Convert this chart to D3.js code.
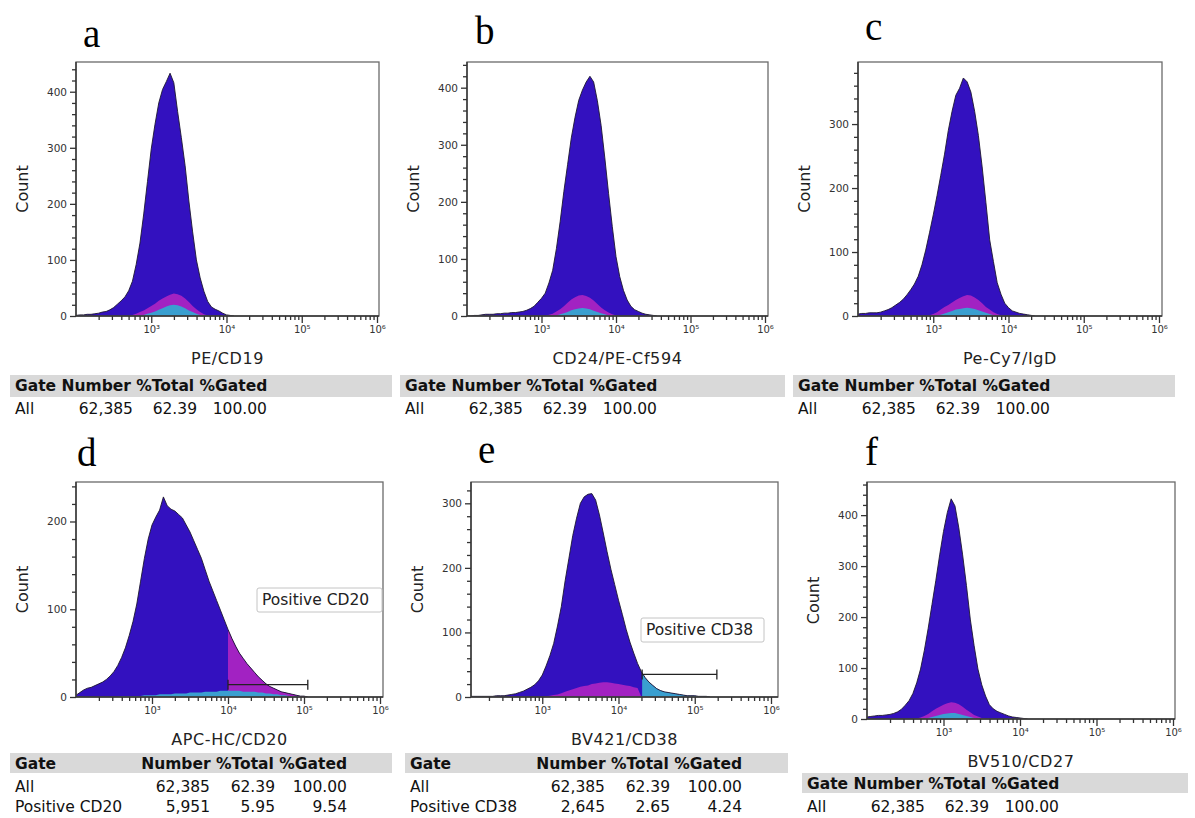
<!DOCTYPE html>
<html>
<head>
<meta charset="utf-8">
<script src="https://cdn.jsdelivr.net/npm/d3@7/dist/d3.min.js"></script>
<style>
  body { margin: 0; background: #fff; }
  text { font-family: "DejaVu Sans", sans-serif; }
</style>
</head>
<body>
<svg id="fig" width="1195" height="818"></svg>
<script>
// Data ______________________________________________________________
// bin centres, log10 of fluorescence, 0.05 decade wide
const bins = [
  2.00, 2.05, 2.10, 2.15, 2.20, 2.25, 2.30, 2.35, 2.40, 2.45,
  2.50, 2.55, 2.60, 2.65, 2.70, 2.75, 2.80, 2.85, 2.90, 2.95,
  3.00, 3.05, 3.10, 3.15, 3.20, 3.25, 3.30, 3.35, 3.40, 3.45,
  3.50, 3.55, 3.60, 3.65, 3.70, 3.75, 3.80, 3.85, 3.90, 3.95,
  4.00, 4.05, 4.10, 4.15, 4.20, 4.25, 4.30, 4.35, 4.40, 4.45,
  4.50, 4.55, 4.60, 4.65, 4.70, 4.75, 4.80, 4.85, 4.90, 4.95,
  5.00, 5.05, 5.10, 5.15, 5.20, 5.25
];

// a  PE/CD19
const aAll = [
  1, 2, 2, 3, 3, 4, 5, 7, 8, 11,
  15, 21, 27, 34, 45, 62, 92, 130, 182, 240,
  298, 342, 380, 404, 418, 433, 416, 365, 318, 268,
  205, 150, 100, 68, 44, 26, 16, 12, 9, 5,
  2, 1, 0
];
const aPink = [
  0, 0, 0, 0, 0, 0, 0, 0, 0, 0,
  0, 0, 0, 0, 0, 2, 4, 7, 10, 14,
  18, 22, 27, 31, 35, 38, 40, 39, 36, 31,
  25, 18, 12, 7, 3, 1, 0
];
const aCyan = [
  0, 0, 0, 0, 0, 0, 0, 0, 0, 0,
  0, 0, 0, 0, 0, 0, 0, 1, 2, 4,
  6, 8, 11, 14, 17, 19, 20, 19, 17, 14,
  10, 7, 4, 2, 1, 0
];

// b  CD24/PE-Cf594
const bAll = [
  0, 0, 1, 1, 2, 3, 3, 3, 4, 4,
  5, 5, 6, 6, 7, 8, 10, 13, 17, 24,
  31, 40, 58, 80, 118, 165, 218, 265, 312, 348,
  378, 396, 410, 420, 410, 377, 334, 277, 215, 157,
  104, 69, 45, 28, 17, 11, 8, 5, 3, 2,
  1, 0
];
const bPink = [
  0, 0, 0, 0, 0, 0, 0, 0, 0, 0,
  0, 0, 0, 0, 0, 0, 0, 0, 0, 0,
  0, 0, 2, 4, 8, 12, 17, 23, 29, 33,
  36, 37, 35, 32, 27, 21, 15, 10, 6, 3,
  1, 0
];
const bCyan = [
  0, 0, 0, 0, 0, 0, 0, 0, 0, 0,
  0, 0, 0, 0, 0, 0, 0, 0, 0, 0,
  0, 0, 0, 0, 1, 3, 5, 7, 10, 12,
  13, 14, 13, 12, 9, 7, 5, 3, 1, 0
];

// c  Pe-Cy7/IgD
const cAll = [
  3, 4, 4, 5, 5, 5, 6, 8, 10, 13,
  17, 21, 26, 33, 41, 50, 62, 80, 103, 130,
  158, 188, 220, 253, 290, 320, 345, 356, 372, 366,
  350, 320, 282, 233, 177, 119, 85, 52, 34, 20,
  13, 8, 6, 4, 3, 2, 1, 0
];
const cPink = [
  0, 0, 0, 0, 0, 0, 0, 0, 0, 0,
  0, 0, 0, 0, 0, 0, 0, 0, 0, 1,
  3, 6, 10, 14, 17, 21, 25, 28, 31, 33,
  32, 29, 25, 20, 14, 10, 6, 3, 1, 0
];
const cCyan = [
  0, 0, 0, 0, 0, 0, 0, 0, 0, 0,
  0, 0, 0, 0, 0, 0, 0, 0, 0, 0,
  0, 1, 2, 4, 6, 8, 10, 11, 12, 13,
  12, 11, 9, 7, 5, 3, 1, 0
];

// d  APC-HC/CD20
const dAll = [
  2, 5, 8, 10, 11, 13, 15, 17, 20, 24,
  29, 36, 45, 56, 70, 86, 106, 132, 158, 180,
  196, 205, 213, 228, 218, 214, 212, 208, 204, 196,
  188, 178, 168, 158, 145, 132, 121, 110, 99, 88,
  77, 67, 58, 50, 44, 38, 33, 28, 23, 19,
  15, 12, 10, 8, 6, 5, 4, 3, 2, 1,
  1, 0
];
const dCyan = [
  0, 0, 0, 0, 0, 0, 0, 0, 0, 0,
  0, 0, 1, 1, 1, 1, 1, 1, 2, 2,
  2, 2, 3, 3, 3, 3, 4, 4, 4, 4,
  5, 5, 5, 5, 6, 6, 6, 6, 7, 7,
  7, 7, 7, 7, 6, 6, 6, 6, 5, 5,
  4, 4, 3, 3, 2, 2, 1, 1, 1, 0
];

// e  BV421/CD38
const eAll = [
  1, 1, 1, 1, 1, 1, 1, 1, 2, 2,
  2, 3, 4, 5, 7, 9, 12, 15, 19, 25,
  34, 48, 64, 83, 110, 140, 180, 215, 250, 277,
  300, 310, 314, 315, 305, 282, 254, 225, 198, 174,
  150, 128, 105, 85, 68, 52, 39, 30, 23, 18,
  13, 10, 8, 7, 6, 5, 4, 3, 2, 2,
  2, 1, 1, 1, 0
];
const ePink = [
  0, 0, 0, 0, 0, 0, 0, 0, 0, 0,
  0, 0, 0, 0, 0, 0, 0, 0, 0, 0,
  0, 1, 2, 3, 4, 6, 8, 10, 12, 14,
  16, 17, 18, 20, 21, 22, 23, 23, 22, 21,
  20, 19, 18, 17, 15, 14, 0
];

// f  BV510/CD27
const fAll = [
  4, 5, 6, 7, 7, 8, 9, 11, 14, 19,
  27, 36, 50, 71, 98, 135, 178, 225, 272, 322,
  368, 405, 432, 418, 375, 322, 262, 196, 144, 98,
  67, 45, 28, 20, 15, 12, 9, 6, 4, 3,
  2, 1, 0
];
const fPink = [
  0, 0, 0, 0, 0, 0, 0, 0, 0, 0,
  0, 0, 0, 1, 3, 6, 10, 15, 20, 24,
  28, 31, 33, 32, 29, 24, 18, 13, 8, 5,
  2, 1, 0
];
const fCyan = [
  0, 0, 0, 0, 0, 0, 0, 0, 0, 0,
  0, 0, 0, 0, 0, 1, 2, 4, 6, 8,
  10, 11, 12, 12, 10, 8, 6, 4, 2, 1,
  0
];

// tick labels
const xTickValues = [1e3, 1e4, 1e5, 1e6];
const xTickLabels = ["10\u00B3", "10\u2074", "10\u2075", "10\u2076"];

// gate tables
const tableHeader = ["Gate", "Number", "%Total", "%Gated"];
const rowAll = ["All", "62,385", "62.39", "100.00"];
const rowCD20 = ["Positive CD20", "5,951", "5.95", "9.54"];
const rowCD38 = ["Positive CD38", "2,645", "2.65", "4.24"];

// Colours ____________________________________________________________
const blue = "#3311bf";
const pink = "#a222c2";
const cyan = "#3a9fd0";

// Layout _____________________________________________________________
const panels = [
  {id: "a", l: 76, t: 62, r: 379, b: 316, x0: 76, x1: 377, yMax: 453,
   lx: 83, ly: 47, xLabel: "PE/CD19", all: aAll,
   subs: [[aPink, pink], [aCyan, cyan]],
   table: {x: 10, y: 375, w: 382, h: 22, rows: [rowAll], wide: false}},
  {id: "b", l: 467, t: 62, r: 768, b: 316, x0: 467, x1: 765, yMax: 445,
   lx: 475, ly: 44, xLabel: "CD24/PE-Cf594", all: bAll,
   subs: [[bPink, pink], [bCyan, cyan]],
   table: {x: 400, y: 375, w: 385, h: 22, rows: [rowAll], wide: false}},
  {id: "c", l: 858, t: 62, r: 1162, b: 316, x0: 858, x1: 1159, yMax: 397,
   lx: 865, ly: 40, xLabel: "Pe-Cy7/IgD", all: cAll,
   subs: [[cPink, pink], [cCyan, cyan]],
   table: {x: 793, y: 375, w: 382, h: 22, rows: [rowAll], wide: false}},
  {id: "d", l: 76, t: 482, r: 383, b: 697, x0: 76, x1: 380, yMax: 245,
   lx: 77, ly: 466, xLabel: "APC-HC/CD20", all: dAll,
   subs: [[dCyan, cyan]],
   gate: {lo: 1e4, hi: Math.pow(10, 5.05), y: 14, color: pink, name: "Positive CD20",
          bx: 257, by: 588, bw: 125, bh: 24},
   table: {x: 10, y: 753, w: 382, h: 20, rows: [rowAll, rowCD20], wide: true}},
  {id: "e", l: 471, t: 482, r: 778, b: 697, x0: 466, x1: 771, yMax: 333,
   lx: 478, ly: 463, xLabel: "BV421/CD38", all: eAll,
   subs: [[ePink, pink]],
   gate: {lo: Math.pow(10, 4.31), hi: Math.pow(10, 5.29), y: 35, color: cyan, name: "Positive CD38",
          bx: 641, by: 618, bw: 123, bh: 24},
   table: {x: 405, y: 753, w: 383, h: 20, rows: [rowAll, rowCD38], wide: true}},
  {id: "f", l: 867, t: 482, r: 1175, b: 719, x0: 867, x1: 1173, yMax: 465,
   lx: 865, ly: 465, xLabel: "BV510/CD27", all: fAll,
   subs: [[fPink, pink], [fCyan, cyan]],
   table: {x: 802, y: 773, w: 386, h: 20, rows: [rowAll], wide: false}}
];

const svg = d3.select("#fig");
svg.append("rect").attr("width", 1195).attr("height", 818).attr("fill", "#fff");

panels.forEach((p) => {
  const g = svg.append("g").attr("class", "panel-" + p.id);

  const x = d3.scaleLog().domain([1e2, 1e6]).range([p.x0, p.x1]);
  const y = d3.scaleLinear().domain([0, p.yMax]).range([p.b, p.t]);

  const clipId = "clip-" + p.id;
  g.append("clipPath").attr("id", clipId)
    .append("rect").attr("x", p.l).attr("y", p.t).attr("width", p.r - p.l).attr("height", p.b - p.t);

  const toPts = (vals) => vals.map((v, i) => [bins[i], v]);
  const area = d3.area()
    .x(d => x(Math.pow(10, d[0])))
    .y0(y(0))
    .y1(d => y(d[1]));
  const line = d3.line()
    .x(d => x(Math.pow(10, d[0])))
    .y(d => y(d[1]));

  const plot = g.append("g").attr("clip-path", `url(#${clipId})`);

  // main histogram
  plot.append("path").datum(toPts(p.all)).attr("d", area).attr("fill", blue);

  // gated part of the main histogram
  if (p.gate) {
    const gClip = "gclip-" + p.id;
    g.append("clipPath").attr("id", gClip)
      .append("rect").attr("x", x(p.gate.lo)).attr("y", p.t)
      .attr("width", p.r - x(p.gate.lo)).attr("height", p.b - p.t);
    plot.append("g").attr("clip-path", `url(#${gClip})`)
      .append("path").datum(toPts(p.all)).attr("d", area).attr("fill", p.gate.color);
  }

  // overlaid subsets
  p.subs.forEach(([vals, col]) => {
    plot.append("path").datum(toPts(vals)).attr("d", area).attr("fill", col);
  });

  // dark outline
  plot.append("path").datum(toPts(p.all)).attr("d", line)
    .attr("fill", "none").attr("stroke", "#1c1630").attr("stroke-width", 0.9)
    .attr("stroke-linejoin", "round");

  // frame
  g.append("rect").attr("x", p.l).attr("y", p.t).attr("width", p.r - p.l).attr("height", p.b - p.t)
    .attr("fill", "none").attr("stroke", "#6a6a6a").attr("stroke-width", 1.3);
  g.append("line").attr("x1", p.l).attr("x2", p.l).attr("y1", p.t).attr("y2", p.b)
    .attr("stroke", "#333").attr("stroke-width", 1.4);
  g.append("line").attr("x1", p.l).attr("x2", p.r).attr("y1", p.b).attr("y2", p.b)
    .attr("stroke", "#333").attr("stroke-width", 1.4);

  // y axis
  const majorY = d3.range(0, p.yMax, 100);
  const minorY = d3.range(0, p.yMax, 20).filter(v => v % 100 !== 0);
  const yAxis = g.append("g").attr("transform", `translate(${p.l},0)`)
    .call(d3.axisLeft(y).tickValues(majorY).tickSize(6).tickPadding(3).tickFormat(d3.format("d")));
  const yMinor = g.append("g").attr("transform", `translate(${p.l},0)`)
    .call(d3.axisLeft(y).tickValues(minorY).tickSize(4).tickFormat(""));

  // x axis
  const xAxis = g.append("g").attr("transform", `translate(0,${p.b})`)
    .call(d3.axisBottom(x).tickValues(xTickValues).tickSize(7).tickPadding(3)
      .tickFormat((d, i) => xTickLabels[i]));
  const xMinor = g.append("g").attr("transform", `translate(0,${p.b})`)
    .call(d3.axisBottom(x).tickValues(x.ticks().filter(v => xTickValues.indexOf(v) < 0 && v > 100))
      .tickSize(4).tickFormat(""));

  [yAxis, yMinor, xAxis, xMinor].forEach(a => {
    a.select(".domain").remove();
    a.selectAll("line").attr("stroke", "#333").attr("stroke-width", 1.3);
    a.selectAll("text").attr("fill", "#333").style("font-size", "10.5px")
      .style("font-family", "'DejaVu Sans', sans-serif");
  });
  xAxis.selectAll("text").style("font-size", "10px");

  // gate marker and label
  if (p.gate) {
    const gy = y(p.gate.y);
    const gx0 = x(p.gate.lo), gx1 = x(p.gate.hi);
    g.append("line").attr("x1", gx0).attr("x2", gx1).attr("y1", gy).attr("y2", gy)
      .attr("stroke", "#222").attr("stroke-width", 1.3);
    [gx0, gx1].forEach(xx => {
      g.append("line").attr("x1", xx).attr("x2", xx).attr("y1", gy - 5).attr("y2", gy + 5)
        .attr("stroke", "#222").attr("stroke-width", 1.3);
    });
    g.append("rect").attr("x", p.gate.bx).attr("y", p.gate.by)
      .attr("width", p.gate.bw).attr("height", p.gate.bh).attr("rx", 2)
      .attr("fill", "#fff").attr("stroke", "#c4c4c4").attr("stroke-width", 1);
    g.append("text").attr("x", p.gate.bx + 5).attr("y", p.gate.by + 17)
      .style("font-size", "15.5px").attr("fill", "#222").text(p.gate.name);
  }

  // panel letter
  g.append("text").attr("x", p.lx).attr("y", p.ly)
    .style("font-family", "'Liberation Serif', serif").style("font-size", "39px")
    .attr("fill", "#000").text(p.id);

  // axis titles
  g.append("text")
    .attr("transform", `translate(${p.l - 48},${(p.t + p.b) / 2}) rotate(-90)`)
    .attr("text-anchor", "middle").style("font-size", "16px").attr("fill", "#222")
    .text("Count");
  g.append("text").attr("x", (p.l + p.r) / 2).attr("y", p.b + 48)
    .attr("text-anchor", "middle").style("font-size", "16px").style("letter-spacing", "0.6px")
    .attr("fill", "#222").text(p.xLabel);

  // statistics table
  const t = p.table;
  g.append("rect").attr("x", t.x).attr("y", t.y).attr("width", t.w).attr("height", t.h)
    .attr("fill", "#d9d9d9");
  const hy = t.y + 16;
  if (t.wide) {
    g.append("text").attr("x", t.x + 5).attr("y", hy)
      .style("font-size", "15.5px").style("font-weight", "bold").attr("fill", "#111")
      .text(tableHeader[0]);
    g.append("text").attr("x", t.x + 337).attr("y", hy).attr("text-anchor", "end")
      .style("font-size", "15.5px").style("font-weight", "bold").attr("fill", "#111")
      .text(tableHeader.slice(1).join(" "));
  } else {
    g.append("text").attr("x", t.x + 5).attr("y", hy)
      .style("font-size", "15.5px").style("font-weight", "bold").attr("fill", "#111")
      .text(tableHeader.join(" "));
  }
  const colEnds = t.wide ? [200, 265, 337] : [123, 187, 257];
  t.rows.forEach((row, ri) => {
    const ry = t.y + 39 + ri * 20;
    g.append("text").attr("x", t.x + 5).attr("y", ry)
      .style("font-size", "15.5px").attr("fill", "#111").text(row[0]);
    row.slice(1).forEach((val, ci) => {
      g.append("text").attr("x", t.x + colEnds[ci]).attr("y", ry).attr("text-anchor", "end")
        .style("font-size", "15.5px").attr("fill", "#111").text(val);
    });
  });
});
</script>
</body>
</html>
